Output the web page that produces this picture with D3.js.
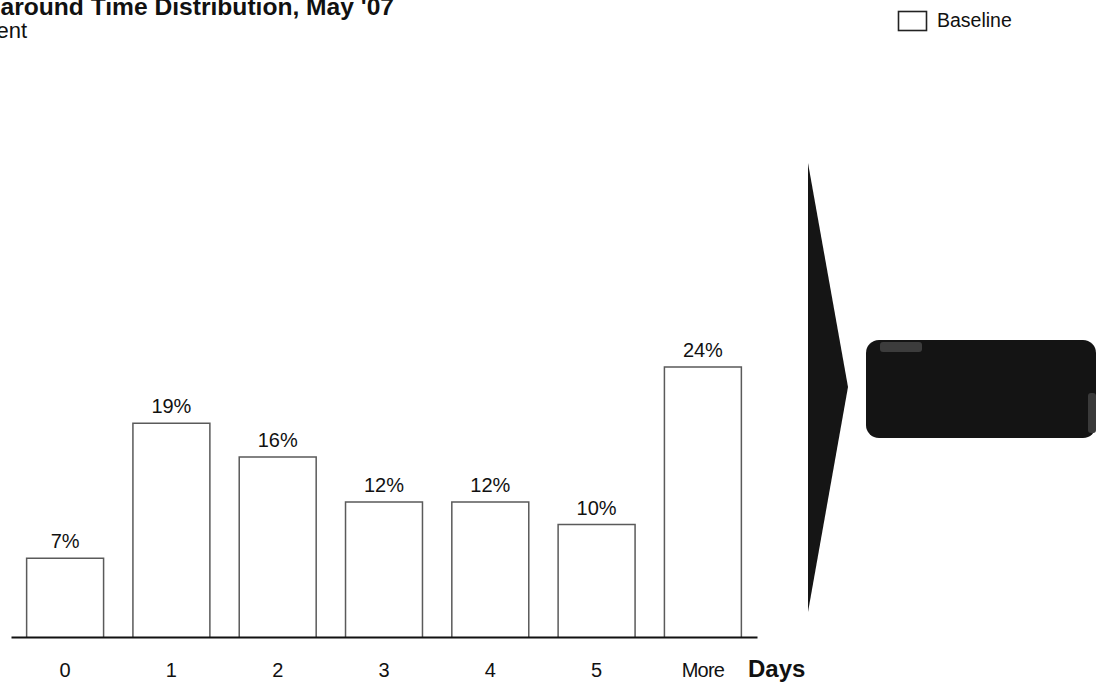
<!DOCTYPE html>
<html>
<head>
<meta charset="utf-8">
<script src="https://cdn.jsdelivr.net/npm/d3@7"></script>
<style>
  html, body { margin: 0; padding: 0; background: #fff; }
  svg { display: block; font-family: "Liberation Sans", Arial, sans-serif; }
</style>
</head>
<body>
<svg id="chart" width="1106" height="682"></svg>
<script>
// Turnaround time buckets (days) and share of items, in percent
const categories = ["0", "1", "2", "3", "4", "5", "More"];
const baselineValues = [7, 19, 16, 12, 12, 10, 24];
const seriesName = "Baseline";
const titleText = "Turnaround Time Distribution, May '07";
const subtitleText = "Percent";
const axisTitle = "Days";

const svg = d3.select("#chart");

const x = d3.scaleBand()
  .domain(categories)
  .range([11, 757])
  .paddingInner(0.276)
  .paddingOuter(0.147);

const y = d3.scaleLinear()
  .domain([0, 30])
  .range([637, 299.5]);

// Title block (runs off the left edge)
svg.append("text")
  .attr("x", 394).attr("y", 15)
  .attr("text-anchor", "end")
  .attr("font-size", 24.6).attr("font-weight", "bold")
  .attr("fill", "#111")
  .text(titleText);

svg.append("text")
  .attr("x", 27).attr("y", 38)
  .attr("text-anchor", "end")
  .attr("font-size", 22)
  .attr("fill", "#111")
  .text(subtitleText);

// Legend
svg.append("rect")
  .attr("x", 898.5).attr("y", 11.5)
  .attr("width", 28).attr("height", 19)
  .attr("fill", "#fff").attr("stroke", "#222").attr("stroke-width", 1.6);
svg.append("text")
  .attr("x", 937).attr("y", 27)
  .attr("font-size", 19.5).attr("fill", "#111")
  .text(seriesName);

// Outlined bars (open at the bottom, sitting on the axis line)
const bars = svg.append("g");
bars.selectAll("path")
  .data(baselineValues)
  .join("path")
  .attr("d", (d, i) => {
    const x0 = x(categories[i]), x1 = x0 + x.bandwidth();
    return `M${x0},${y(0)}V${y(d)}H${x1}V${y(0)}`;
  })
  .attr("fill", "none")
  .attr("stroke", "#5a5a5a")
  .attr("stroke-width", 1.5);

// Value labels
svg.append("g").selectAll("text")
  .data(baselineValues)
  .join("text")
  .attr("x", (d, i) => x(categories[i]) + x.bandwidth() / 2)
  .attr("y", d => y(d) - 10)
  .attr("text-anchor", "middle")
  .attr("font-size", 20)
  .attr("fill", "#111")
  .text(d => d + "%");

// Category axis
const axis = svg.append("g")
  .attr("transform", `translate(0,${y(0)})`)
  .call(d3.axisBottom(x).tickSize(0).tickSizeOuter(0).tickPadding(26));
axis.select(".domain").attr("stroke", "#111").attr("stroke-width", 2);
axis.selectAll(".tick text")
  .attr("font-size", 20)
  .attr("font-family", "Liberation Sans, Arial, sans-serif")
  .attr("fill", "#111")
  .attr("letter-spacing", d => d === "More" ? -0.8 : 0);

svg.append("text")
  .attr("x", 748).attr("y", 677)
  .attr("font-size", 24).attr("font-weight", "bold")
  .attr("fill", "#111")
  .text(axisTitle);

// Pointer arrow and callout panel on the right
svg.append("path")
  .attr("d", "M808,163L848,387L808,612Z")
  .attr("fill", "#151515");

svg.append("rect")
  .attr("x", 866).attr("y", 340)
  .attr("width", 230).attr("height", 98)
  .attr("rx", 13)
  .attr("fill", "#141414");
svg.append("rect")
  .attr("x", 880).attr("y", 342)
  .attr("width", 42).attr("height", 10)
  .attr("rx", 3)
  .attr("fill", "#3c3c3c");
svg.append("rect")
  .attr("x", 1088).attr("y", 393)
  .attr("width", 8).attr("height", 40)
  .attr("rx", 3)
  .attr("fill", "#3a3a3a");
</script>
</body>
</html>
